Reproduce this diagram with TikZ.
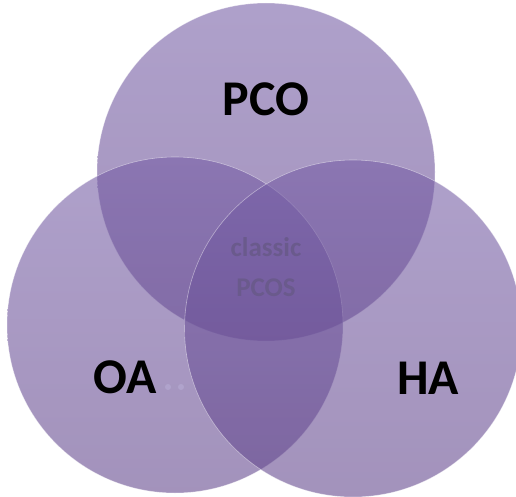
\documentclass[tikz,border=0pt]{standalone}
\usepackage{fontspec}
\setmainfont{Carlito}
\definecolor{vtop}{RGB}{118,94,166}
\definecolor{vbot}{RGB}{98,70,140}
\definecolor{midtxt}{RGB}{106,90,140}
\definecolor{dotc}{RGB}{176,163,204}
\tikzset{
  venn/.style={top color=vtop, bottom color=vbot, fill opacity=0.59, draw=white, draw opacity=0.45, line width=0.6pt},
  biglabel/.style={font=\fontsize{50}{50}\selectfont\bfseries, text=black, inner sep=0pt},
  midlabel/.style={font=\fontsize{27}{27}\selectfont\bfseries, text=midtxt, inner sep=0pt}
}
\begin{document}
\begin{tikzpicture}[x=1pt,y=-1pt]
\useasboundingbox (0,0) rectangle (516,497);
\path[venn] (266,172) circle (169);
\path[venn] (175,325) circle (168);
\path[venn] (353,328.5) circle (168.5);
\node[biglabel] (pco) at (266,99) {PCO};
\node[biglabel] (oa) at (125,377) {OA};
\node[biglabel] (ha) at (428,378) {HA};
\node[midlabel] (classic) at (266,247) {classic};
\node[midlabel] (pcos) at (266,288) {PCOS};
\fill[dotc] (168,387) circle (3) (181,387) circle (3);
\end{tikzpicture}
\end{document}
